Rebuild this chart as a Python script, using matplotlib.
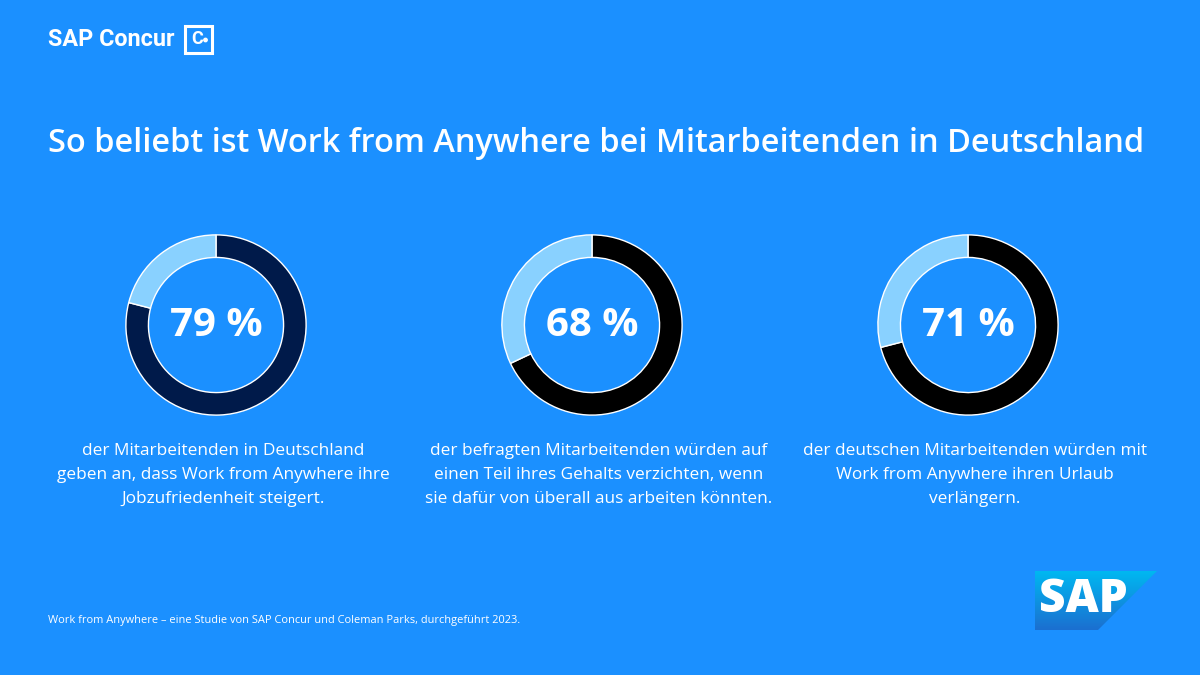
import matplotlib.pyplot as plt
import numpy as np
from matplotlib.patches import Polygon, Rectangle, Circle

values = [79, 68, 71]
labels = ["79 %", "68 %", "71 %"]
main_colors = ["#001A4A", "#000000", "#000000"]
rest_color = "#89D1FF"
descriptions = [
    ["der Mitarbeitenden in Deutschland",
     "geben an, dass Work from Anywhere ihre",
     "Jobzufriedenheit steigert."],
    ["der befragten Mitarbeitenden würden auf",
     "einen Teil ihres Gehalts verzichten, wenn",
     "sie dafür von überall aus arbeiten könnten."],
    ["der deutschen Mitarbeitenden würden mit",
     "Work from Anywhere ihren Urlaub",
     "verlängern."],
]
title = "So beliebt ist Work from Anywhere bei Mitarbeitenden in Deutschland"
footer = "Work from Anywhere – eine Studie von SAP Concur und Coleman Parks, durchgeführt 2023."

bg = "#1B90FF"
W, H = 1200, 675
centers_x = [216, 592, 968]
cy = 325
r_px = 91

fig = plt.figure(figsize=(12, 6.75), dpi=100, facecolor=bg)
ax = fig.add_axes([0, 0, 1, 1])
ax.set_xlim(0, W)
ax.set_ylim(H, 0)
ax.axis("off")
ax.set_facecolor(bg)

# header logo
ax.text(48, 40, "SAP Concur", color="white", fontsize=16.8, fontweight="bold",
        family="Roboto", va="center", ha="left")
ax.add_patch(Rectangle((185, 25.5), 27, 27, fill=False, ec="white", lw=2.2))
ax.text(197, 39.5, "C", color="white", fontsize=13, fontweight="bold",
        family="Roboto", va="center", ha="center")
ax.add_patch(Circle((205.5, 40), 1.7, color="white"))

# title
ax.text(48, 143, title, color="white", fontsize=23.4, fontweight="semibold",
        family="Open Sans", va="center", ha="left")

# donuts
for i, v in enumerate(values):
    x0 = centers_x[i]
    dax = fig.add_axes([(x0 - r_px) / W, (H - cy - r_px) / H, 2 * r_px / W, 2 * r_px / H])
    dax.pie([v, 100 - v], colors=[main_colors[i], rest_color], startangle=90,
            counterclock=False, radius=1,
            wedgeprops=dict(width=0.25, edgecolor="white", linewidth=1))
    dax.set_xlim(-1.01, 1.01)
    dax.set_ylim(-1.01, 1.01)
    dax.set_aspect("equal")
    dax.axis("off")
    ax.text(x0, cy, labels[i], color="white", fontsize=29, fontweight="bold",
            family="Open Sans", va="center", ha="center")
    for j, line in enumerate(descriptions[i]):
        ax.text(x0 + 7, 451 + 24 * j, line, color="white", fontsize=12.45,
                family="Open Sans", va="center", ha="center")

# footer
ax.text(48, 620, footer, color="white", fontsize=7.95, family="Open Sans",
        va="center", ha="left")

# SAP logo with gradient
poly = [(1035, 571), (1157, 571), (1098, 630), (1035, 630)]
grad = np.linspace(0, 1, 100).reshape(-1, 1)
c1 = np.array([0x00, 0xB8, 0xF1]) / 255
c2 = np.array([0x1B, 0x6F, 0xD0]) / 255
img = c1 + grad[..., None] * (c2 - c1)
im = ax.imshow(img, extent=(1035, 1157, 630, 571), aspect="auto", zorder=2)
clip = Polygon(poly, closed=True, transform=ax.transData)
im.set_clip_path(clip)
ax.text(1083, 600, "SAP", color="white", fontsize=33, fontweight="heavy",
        family="Open Sans", va="center", ha="center", zorder=3)
ax.set_xlim(0, W)
ax.set_ylim(H, 0)

fig.savefig("out.png", dpi=100, facecolor=bg)
